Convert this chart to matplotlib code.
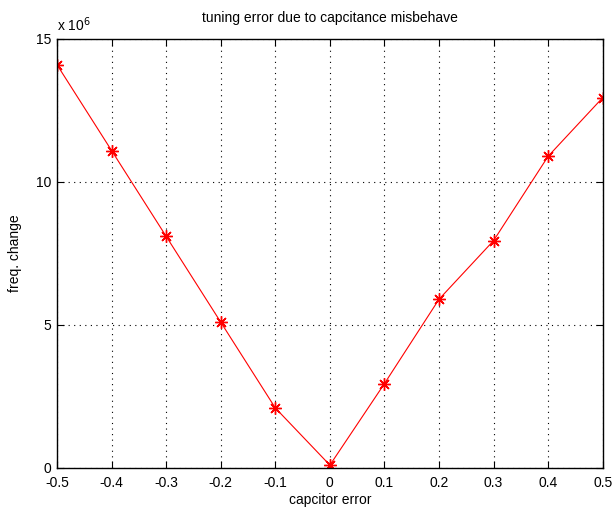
import matplotlib.pyplot as plt

# capacitor error vs frequency change (x 10^6)
cap_error = [-0.5, -0.4, -0.3, -0.2, -0.1, 0.0, 0.1, 0.2, 0.3, 0.4, 0.5]
freq_change = [14.1, 11.1, 8.1, 5.1, 2.1, 0.1, 2.95, 5.9, 7.95, 10.9, 12.95]
xticks = [-0.5, -0.4, -0.3, -0.2, -0.1, 0, 0.1, 0.2, 0.3, 0.4, 0.5]
xticklabels = ['-0.5', '-0.4', '-0.3', '-0.2', '-0.1', '0', '0.1', '0.2', '0.3', '0.4', '0.5']
yticks = [0, 5, 10, 15]

plt.rcParams['font.family'] = ['Liberation Sans', 'DejaVu Sans']

fig = plt.figure(figsize=(6.16, 5.15), dpi=100)
fig.patch.set_facecolor('white')
ax = fig.add_axes([0.0925, 0.0913, 0.886, 0.833])

# matlab style '*' marker: 8 spoke asterisk
ax.plot(cap_error, freq_change, color='red', linewidth=0.8, marker=(8, 2, 0),
        markersize=9, markeredgewidth=1.0)

ax.set_xlim(-0.5, 0.5)
ax.set_ylim(0, 15)
ax.set_xticks(xticks)
ax.set_xticklabels(xticklabels)
ax.set_yticks(yticks)
ax.tick_params(direction='in', top=True, right=True, length=5, width=0.8,
               labelsize=10)
ax.tick_params(axis='x', pad=6)
ax.tick_params(axis='y', pad=4)
ax.grid(True, linestyle=(0, (1, 4)), color='black', linewidth=0.8)
for s in ax.spines.values():
    s.set_linewidth(1.0)

ax.set_title('tuning error due to capcitance misbehave', fontsize=10, pad=12)
ax.set_xlabel('capcitor error', fontsize=10, labelpad=2)
ax.set_ylabel('freq. change', fontsize=10, labelpad=10)
ax.text(0.0, 1.012, r'x 10$^{6}$', transform=ax.transAxes, fontsize=10,
        ha='left', va='bottom')

fig.savefig('out.png', dpi=100)
